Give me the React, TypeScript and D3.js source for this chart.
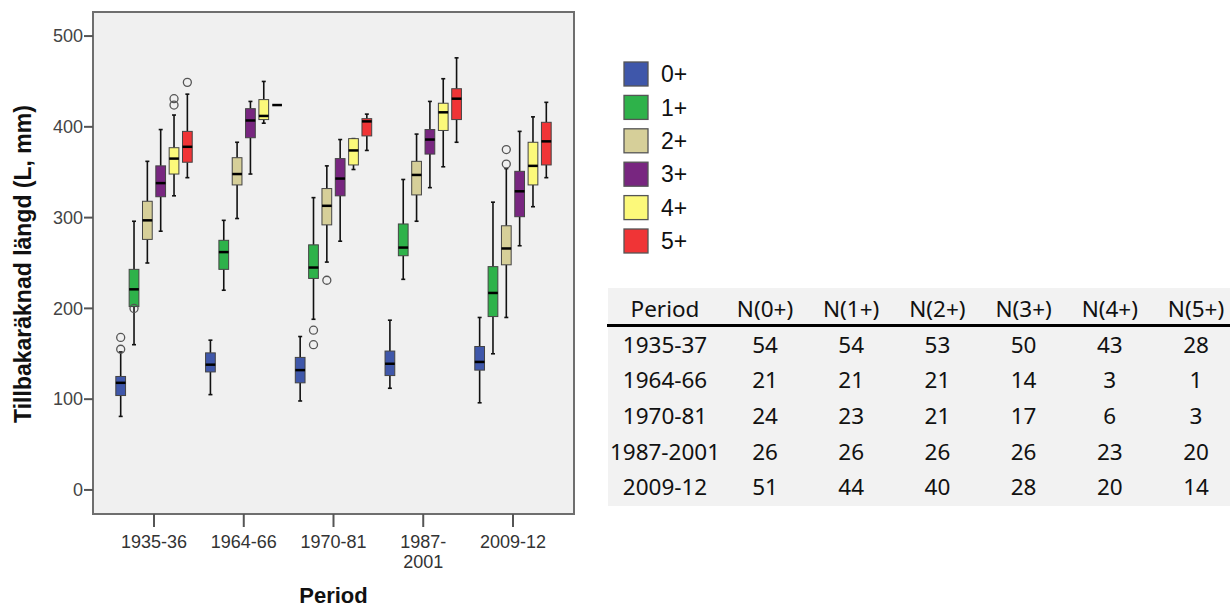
import React from 'react';
import * as d3 from 'd3';

// periods on the x axis and age classes inside each period
const periods = ['1935-36', '1964-66', '1970-81', '1987-2001', '2009-12'];
const periodLabels = [['1935-36'], ['1964-66'], ['1970-81'], ['1987-', '2001'], ['2009-12']];
const ages = ['0+', '1+', '2+', '3+', '4+', '5+'];
const ageColors = ['#3f57aa', '#2eb24a', '#d6cf99', '#782680', '#fcf97a', '#f03436'];

// box stats per period, per age: [whisker low, q1, median, q3, whisker high]
const stats1935 = [
  [81, 104, 118, 125, 152],
  [160, 202, 221, 243, 296],
  [250, 276, 297, 318, 362],
  [285, 323, 338, 357, 397],
  [324, 348, 365, 377, 413],
  [344, 361, 378, 395, 436],
];
const stats1964 = [
  [105, 130, 138, 151, 165],
  [220, 243, 262, 275, 297],
  [299, 336, 348, 366, 383],
  [348, 388, 407, 420, 428],
  [404, 408, 412, 430, 450],
  [424, 424, 424, 424, 424],
];
const stats1970 = [
  [98, 118, 132, 146, 169],
  [188, 233, 245, 270, 322],
  [251, 292, 313, 332, 357],
  [274, 324, 343, 365, 386],
  [353, 358, 374, 387, 387],
  [374, 390, 406, 409, 414],
];
const stats1987 = [
  [112, 126, 139, 153, 187],
  [232, 258, 267, 293, 342],
  [296, 325, 347, 362, 392],
  [333, 370, 386, 397, 428],
  [356, 396, 416, 426, 453],
  [383, 408, 431, 442, 476],
];
const stats2009 = [
  [96, 132, 141, 158, 190],
  [150, 191, 217, 246, 317],
  [190, 248, 266, 291, 354],
  [269, 301, 329, 351, 395],
  [312, 336, 357, 383, 411],
  [344, 358, 384, 405, 427],
];
const allStats = [stats1935, stats1964, stats1970, stats1987, stats2009];

// outliers per period, per age
const outliers1935 = [[155, 168], [200], [], [], [424, 431], [449]];
const outliers1964 = [[], [], [], [], [], []];
const outliers1970 = [[], [176, 160], [231], [], [], []];
const outliers1987 = [[], [], [], [], [], []];
const outliers2009 = [[], [], [359, 375], [], [], []];
const allOutliers = [outliers1935, outliers1964, outliers1970, outliers1987, outliers2009];

const yTicks = [0, 100, 200, 300, 400, 500];

// sample size table
const tableHeader = ['Period', 'N(0+)', 'N(1+)', 'N(2+)', 'N(3+)', 'N(4+)', 'N(5+)'];
const tablePeriods = ['1935-37', '1964-66', '1970-81', '1987-2001', '2009-12'];
const nCounts = [
  [54, 54, 53, 50, 43, 28],
  [21, 21, 21, 14, 3, 1],
  [24, 23, 21, 17, 6, 3],
  [26, 26, 26, 26, 23, 20],
  [51, 44, 40, 28, 20, 14],
];

const W = 1230;
const H = 608;
const plot = { left: 93, right: 574, top: 12, bottom: 514 };
const axisFont = '"Liberation Sans", Arial, sans-serif';
const tableFont = '"Noto Sans", "Open Sans", sans-serif';

export default function App() {
  const x = d3.scaleBand<string>()
    .domain(periods)
    .range([plot.left, plot.right])
    .paddingInner(0)
    .paddingOuter(0.18);

  const xAge = d3.scaleBand<string>()
    .domain(ages)
    .range([0, x.bandwidth()])
    .paddingInner(0.27)
    .paddingOuter(0.5);

  const y = d3.scaleLinear()
    .domain([-26.5, 526.5])
    .range([plot.bottom, plot.top]);

  const boxW = xAge.bandwidth();
  const capW = 4;

  // table positions
  const colX = d3.scalePoint<string>().domain(tableHeader.slice(1)).range([765, 1196]);
  const rowY = d3.scalePoint<string>().domain(['header', ...tablePeriods]).range([309, 487]);
  const periodColX = 665;

  return (
    <svg width={W} height={H} style={{ position: 'absolute', left: 0, top: 0, background: '#fff' }}>
      {/* plot area */}
      <rect x={plot.left} y={plot.top} width={plot.right - plot.left} height={plot.bottom - plot.top}
        fill="#f0f0f0" stroke="#6e6e6e" strokeWidth={2} />

      {/* y axis */}
      {yTicks.map(t => (
        <g key={t}>
          <line x1={plot.left - 9} x2={plot.left} y1={y(t)} y2={y(t)} stroke="#555" strokeWidth={2} />
          <text x={plot.left - 10} y={y(t)} dy="0.35em" textAnchor="end" fontFamily={axisFont}
            fontSize={18} fill="#444">{t}</text>
        </g>
      ))}
      <text transform={`translate(31, ${(plot.top + plot.bottom) / 2 + 1}) rotate(-90)`} textAnchor="middle"
        fontFamily={axisFont} fontSize={23} fontWeight="bold" fill="#111">Tillbakaräknad längd (L, mm)</text>

      {/* x axis */}
      {periods.map((p, i) => {
        const cx = (x(p) as number) + x.bandwidth() / 2;
        return (
          <g key={p}>
            <line x1={cx} x2={cx} y1={plot.bottom} y2={plot.bottom + 13} stroke="#555" strokeWidth={2} />
            {periodLabels[i].map((l, j) => (
              <text key={j} x={cx} y={plot.bottom + 34 + j * 20} textAnchor="middle" fontFamily={axisFont}
                fontSize={18} fill="#333">{l}</text>
            ))}
          </g>
        );
      })}
      <text x={(plot.left + plot.right) / 2} y={603} textAnchor="middle" fontFamily={axisFont} fontSize={22}
        fontWeight="bold" fill="#111">Period</text>

      {/* boxes */}
      {periods.map((p, i) => (
        <g key={p} transform={`translate(${x(p)},0)`}>
          {ages.map((a, j) => {
            const [lo, q1, med, q3, hi] = allStats[i][j];
            const bx = xAge(a) as number;
            const cx = bx + boxW / 2;
            return (
              <g key={a}>
                <line x1={cx} x2={cx} y1={y(hi)} y2={y(q3)} stroke="#111" strokeWidth={1.6} />
                <line x1={cx} x2={cx} y1={y(q1)} y2={y(lo)} stroke="#111" strokeWidth={1.6} />
                <line x1={cx - capW / 2} x2={cx + capW / 2} y1={y(hi)} y2={y(hi)} stroke="#111" strokeWidth={1.6} />
                <line x1={cx - capW / 2} x2={cx + capW / 2} y1={y(lo)} y2={y(lo)} stroke="#111" strokeWidth={1.6} />
                {q3 > q1 && (
                  <rect x={bx} y={y(q3)} width={boxW} height={y(q1) - y(q3)} fill={ageColors[j]}
                    stroke="#444" strokeWidth={1} />
                )}
                <line x1={bx} x2={bx + boxW} y1={y(med)} y2={y(med)} stroke="#000" strokeWidth={2.5} />
                {allOutliers[i][j].map((o, k) => (
                  <circle key={k} cx={cx} cy={y(o)} r={4} fill="none" stroke="#555" strokeWidth={1.3} />
                ))}
              </g>
            );
          })}
        </g>
      ))}

      {/* legend */}
      {ages.map((a, j) => (
        <g key={a} transform={`translate(624, ${62 + j * 33.4})`}>
          <rect x={0} y={0} width={24} height={24} fill={ageColors[j]} stroke="#555" strokeWidth={1.3} />
          <text x={37} y={12} dy="0.36em" fontFamily={axisFont} fontSize={23} fill="#111">{a}</text>
        </g>
      ))}

      {/* sample size table */}
      <rect x={608} y={288} width={W - 608} height={218} fill="#f2f2f2" />
      <line x1={607} x2={W} y1={325.5} y2={325.5} stroke="#000" strokeWidth={3} />
      <text x={periodColX} y={rowY('header')} dy="0.36em" textAnchor="middle" fontFamily={tableFont}
        fontSize={22.5} fill="#111">{tableHeader[0]}</text>
      {tableHeader.slice(1).map(h => (
        <text key={h} x={colX(h)} y={rowY('header')} dy="0.36em" textAnchor="middle" fontFamily={tableFont}
          fontSize={22.5} fill="#111">{h}</text>
      ))}
      {tablePeriods.map((tp, r) => (
        <g key={tp}>
          <text x={periodColX} y={rowY(tp)} dy="0.36em" textAnchor="middle" fontFamily={tableFont}
            fontSize={22.5} fill="#111">{tp}</text>
          {nCounts[r].map((n, c) => (
            <text key={c} x={colX(tableHeader[c + 1])} y={rowY(tp)} dy="0.36em" textAnchor="middle"
              fontFamily={tableFont} fontSize={22.5} fill="#111">{n}</text>
          ))}
        </g>
      ))}
    </svg>
  );
}
